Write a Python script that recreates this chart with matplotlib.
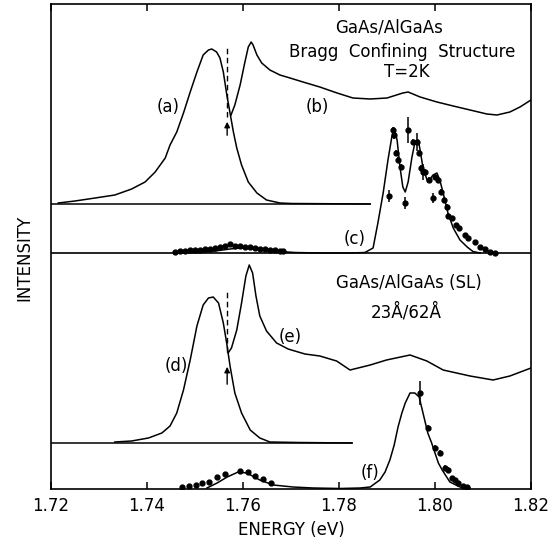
import numpy as np
import matplotlib
matplotlib.use("Agg")
import matplotlib.pyplot as plt

# energy axis (eV), intensities in arbitrary units
# (a) Bragg structure emission, top panel
a_E = [1.7215, 1.7250, 1.7292, 1.7333, 1.7368, 1.7396, 1.7417, 1.7438, 1.7448, 1.7462,
       1.7476, 1.7490, 1.7504, 1.7517, 1.7528, 1.7535, 1.7545, 1.7552, 1.7559, 1.7566,
       1.7573, 1.7580, 1.7587, 1.7597, 1.7611, 1.7629, 1.7649, 1.7677, 1.7701, 1.7865]
a_I = [1, 3, 6, 9, 15, 22, 32, 46, 59, 72, 91, 112, 132, 149, 154, 155, 152, 146, 132, 110,
       91, 72, 56, 39, 22, 11, 4, 1, 0.5, 0]

# (b) reflectivity
b_E = [1.7575, 1.7583, 1.7594, 1.7604, 1.7611, 1.7617, 1.7621, 1.7629, 1.7639, 1.7656,
       1.7677, 1.7698, 1.7725, 1.7760, 1.7796, 1.7829, 1.7865, 1.7900, 1.7933, 1.7944,
       1.7969, 1.8004, 1.8038, 1.8073, 1.8108, 1.8129, 1.8156, 1.8177, 1.8200]
b_I = [89, 99, 119, 142, 157, 162, 159, 149, 141, 134, 129, 126, 122, 117, 111, 106, 105,
       106, 111, 112, 107, 102, 98, 94, 90, 89, 92, 97, 104]

# (c) excitation spectrum, solid fit
c_E = [1.7458, 1.7510, 1.7542, 1.7573, 1.7594, 1.7615, 1.7646, 1.7677, 1.7708, 1.7760,
       1.7823, 1.7854, 1.7871, 1.7881, 1.7892, 1.7902, 1.7910, 1.7915, 1.7921, 1.7927,
       1.7933, 1.7938, 1.7944, 1.7952, 1.7958, 1.7965, 1.7969, 1.7975, 1.7985, 1.7996,
       1.8004, 1.8010, 1.8017, 1.8027, 1.8038, 1.8052, 1.8067, 1.8079, 1.8094]
c_I = [0, 0.5, 2, 4, 5, 4.5, 3, 1.5, 0.5, 0, 0, 0.5, 5, 30, 60, 93, 116, 125, 113, 86,
       66, 61, 71, 96, 110, 113, 103, 85, 71, 78, 80, 73, 60, 40, 25, 13, 6, 1.5, 0]

# (c) measured points
c_pts_E = [1.7458, 1.7469, 1.7479, 1.7490, 1.7500, 1.7510, 1.7521, 1.7531, 1.7542, 1.7552,
           1.7563, 1.7573, 1.7583, 1.7594, 1.7604, 1.7615, 1.7625, 1.7635, 1.7646, 1.7656,
           1.7667, 1.7677, 1.7683,
           1.7904, 1.7913, 1.7915, 1.7919, 1.7923, 1.7929, 1.7938, 1.7944, 1.7954, 1.7963,
           1.7967, 1.7971, 1.7975, 1.7979, 1.7988, 1.7996, 1.8000, 1.8006, 1.8013, 1.8019,
           1.8025, 1.8027, 1.8035, 1.8044, 1.8050, 1.8063, 1.8069, 1.8083, 1.8094, 1.8104,
           1.8115, 1.8125]
c_pts_I = [1.3, 2, 2.3, 2.7, 3, 3, 3.7, 4.3, 5.3, 5.7, 6.7, 8.7, 7, 6.7, 6, 5.7, 4.7, 4,
           3.7, 3.3, 3, 2.3, 2,
           57, 123, 118, 100, 93, 86, 50, 123, 111, 111, 100, 85, 81, 81, 73, 55, 76, 73,
           61, 53, 46, 37, 35, 28, 25, 18, 15, 11, 6, 4, 1, 0]
c_pts_err = [0] * 23 + [6, 3, 4, 3, 3, 3, 6, 13, 3, 9, 3, 3, 8, 3, 3, 5, 3, 3, 3, 3, 3,
                        3, 2, 2, 2, 2, 2, 1, 1, 1, 0, 0]

# (d) superlattice emission, bottom panel
d_E = [1.7333, 1.7368, 1.7403, 1.7431, 1.7448, 1.7462, 1.7476, 1.7490, 1.7504, 1.7517,
       1.7528, 1.7538, 1.7549, 1.7559, 1.7566, 1.7573, 1.7583, 1.7597, 1.7615, 1.7635,
       1.7656, 1.7715, 1.7827]
d_I = [1, 2, 5, 10, 17, 30, 53, 83, 117, 138, 145, 146, 140, 120, 100, 77, 50, 30, 13, 5,
       1, 0.5, 0]

# (e) reflectivity
e_E = [1.7569, 1.7576, 1.7587, 1.7597, 1.7606, 1.7613, 1.7620, 1.7627, 1.7635, 1.7649,
       1.7670, 1.7694, 1.7729, 1.7760, 1.7795, 1.7823, 1.7865, 1.7899, 1.7948, 1.7983,
       1.8017, 1.8073, 1.8121, 1.8156, 1.8200]
e_I = [90, 95, 113, 140, 167, 178, 170, 147, 127, 112, 100, 94, 89, 87, 82, 73, 78, 83, 88,
       82, 73, 67, 63, 67, 75]

# (f) excitation spectrum, solid fit
f_E = [1.7525, 1.7546, 1.7567, 1.7590, 1.7608, 1.7635, 1.7663, 1.7704, 1.7746, 1.7802,
       1.7844, 1.7865, 1.7885, 1.7896, 1.7906, 1.7915, 1.7923, 1.7931, 1.7938, 1.7948,
       1.7958, 1.7967, 1.7975, 1.7985, 1.7993, 1.8000, 1.8007, 1.8015, 1.8031, 1.8052,
       1.8073]
f_I = [1, 6, 12, 17, 16, 9, 4, 2, 1, 0.5, 1, 2, 9, 17, 29, 44, 62, 76, 86, 96, 96, 92, 76,
       56, 46, 36, 26, 19, 7, 2, 1]

# (f) measured points
f_pts_E = [1.7473, 1.7488, 1.7502, 1.7515, 1.7529, 1.7546, 1.7563, 1.7594, 1.7610, 1.7625,
           1.7642, 1.7658,
           1.7969, 1.7985, 1.8000, 1.8010, 1.8021, 1.8027, 1.8035, 1.8042, 1.8048, 1.8058,
           1.8067]
f_pts_I = [2, 3, 4, 6, 7, 12, 15, 18, 17, 13, 10, 6,
           96, 61, 41, 36, 21, 19, 11, 9, 6, 3, 2]
f_pts_err = [0] * 12 + [12, 3, 3, 3, 3, 3, 2, 2, 1, 1, 0]

# vertical offsets of the stacked traces
off_top = 285
off_c = 236
off_bot = 46
off_f = 0

exciton_E = 1.7567
tick_vals = [1.72, 1.74, 1.76, 1.78, 1.80, 1.82]

plt.rcParams['font.family'] = ['DejaVu Sans']
fig = plt.figure(figsize=(5.53, 5.42), dpi=100)
ax = fig.add_axes([51 / 553, 53 / 542, 480 / 553, 485 / 542])

lw = 1.1
ax.plot(a_E, np.array(a_I) + off_top, color='black', lw=lw)
ax.plot([1.72, a_E[-1]], [off_top, off_top], color='black', lw=lw)
ax.plot(b_E, np.array(b_I) + off_top, color='black', lw=lw)
ax.plot(c_E, np.array(c_I) + off_c, color='black', lw=lw)
ax.errorbar(c_pts_E, np.array(c_pts_I) + off_c, yerr=c_pts_err, fmt='o', color='black',
            ms=3.5, elinewidth=1.1, capsize=0)

ax.plot(d_E, np.array(d_I) + off_bot, color='black', lw=lw)
ax.plot([1.72, d_E[-1]], [off_bot, off_bot], color='black', lw=lw)
ax.plot(e_E, np.array(e_I) + off_bot, color='black', lw=lw)
ax.plot(f_E, np.array(f_I) + off_f, color='black', lw=lw)
ax.errorbar(f_pts_E, np.array(f_pts_I) + off_f, yerr=f_pts_err, fmt='o', color='black',
            ms=3.5, elinewidth=1.1, capsize=0)

# exciton position markers
ax.plot([exciton_E, exciton_E], [off_top + 87, off_top + 159], color='black', lw=1.0,
        ls=(0, (4, 2.5)))
ax.annotate('', xy=(exciton_E, off_top + 85), xytext=(exciton_E, off_top + 66),
            arrowprops=dict(arrowstyle='-|>', color='black', lw=1.0, mutation_scale=8))
ax.plot([exciton_E, exciton_E], [off_bot + 91, off_bot + 151], color='black', lw=1.0,
        ls=(0, (4, 2.5)))
ax.annotate('', xy=(exciton_E, off_bot + 79), xytext=(exciton_E, off_bot + 56),
            arrowprops=dict(arrowstyle='-|>', color='black', lw=1.0, mutation_scale=8))

# panel divider
ax.axhline(off_c, color='black', lw=1.2)

ax.set_xlim(1.72, 1.82)
ax.set_ylim(0, 485)
ax.set_xticks(tick_vals)
ax.set_xticklabels([f'{v:.2f}' for v in tick_vals])
ax.set_yticks([])
ax.tick_params(axis='x', direction='in', top=True, length=5, width=1.1, pad=6,
               labelsize=12)
for s in ax.spines.values():
    s.set_linewidth(1.2)
ax.set_xlabel('ENERGY (eV)', fontsize=12, labelpad=4)
fig.text(24 / 553, 1 - 258 / 542, 'INTENSITY', rotation=90, fontsize=12,
         ha='center', va='center')

fs = 12
ax.text(1.7905, 461, 'GaAs/AlGaAs', fontsize=fs, ha='center', va='center')
ax.text(1.7932, 437, 'Bragg  Confining  Structure', fontsize=fs, ha='center', va='center')
ax.text(1.7941, 417, 'T=2K', fontsize=fs, ha='center', va='center')
ax.text(1.7444, 382, '(a)', fontsize=fs, ha='center', va='center')
ax.text(1.7754, 382, '(b)', fontsize=fs, ha='center', va='center')
ax.text(1.7833, 250, '(c)', fontsize=fs, ha='center', va='center')
ax.text(1.7946, 206, 'GaAs/AlGaAs (SL)', fontsize=fs, ha='center', va='center')
ax.text(1.7940, 177, '23Å/62Å', fontsize=fs, ha='center', va='center')
ax.text(1.7462, 123, '(d)', fontsize=fs, ha='center', va='center')
ax.text(1.7698, 152, '(e)', fontsize=fs, ha='center', va='center')
ax.text(1.7865, 16, '(f)', fontsize=fs, ha='center', va='center')

fig.savefig('out.png', dpi=100)
